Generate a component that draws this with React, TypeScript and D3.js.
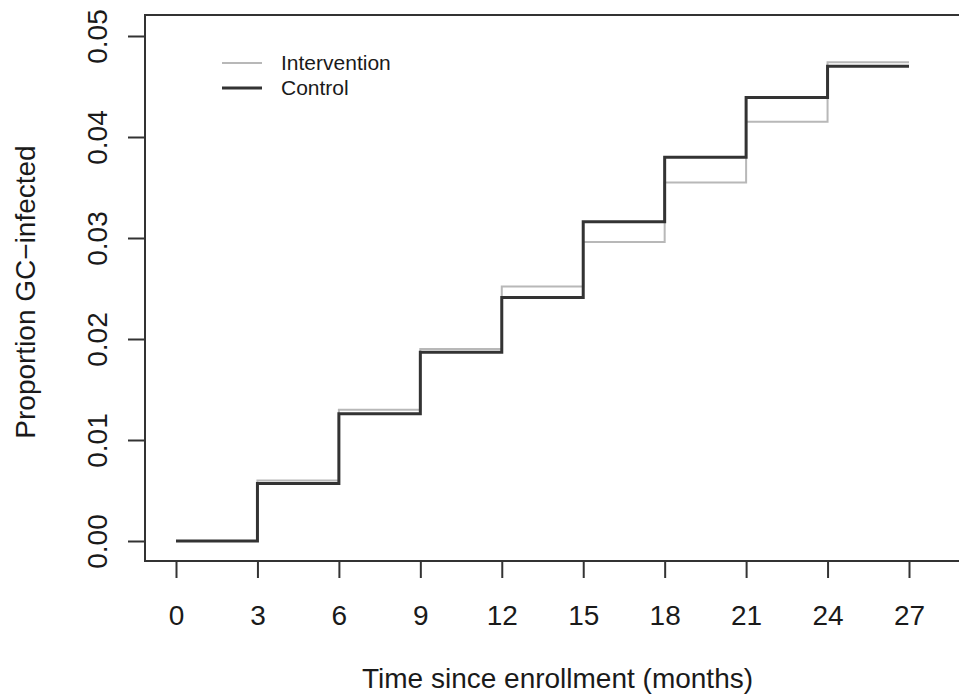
import React, { useEffect, useRef } from 'react';
import * as d3 from 'd3';

const months = [0, 3, 6, 9, 12, 15, 18, 21, 24, 27];
const intervention = [0, 0.006, 0.013, 0.019, 0.0252, 0.0296, 0.0355, 0.0415, 0.0474, 0.0474];
const control = [0, 0.0057, 0.0126, 0.0187, 0.0241, 0.0316, 0.038, 0.0439, 0.047, 0.047];
const yTicks = [0, 0.01, 0.02, 0.03, 0.04, 0.05];
const seriesNames = ['Intervention', 'Control'];

const App = () => {
  const chartRef = useRef<SVGSVGElement>(null);

  useEffect(() => {
    const svg = d3.select(chartRef.current);
    svg.selectAll('*').remove();

    const font = 'Liberation Sans, Arial, Helvetica, sans-serif';
    const box = { left: 145, top: 15, right: 970, bottom: 561 };

    const x = d3.scaleLinear().domain([0, 27]).range([176, 909]);
    const y = d3.scaleLinear().domain([0, 0.05]).range([541, 36]);

    // plot frame (right side runs off the image)
    svg.append('rect')
      .attr('x', box.left).attr('y', box.top)
      .attr('width', box.right - box.left).attr('height', box.bottom - box.top)
      .attr('fill', 'none').attr('stroke', '#333').attr('stroke-width', 2);

    // x axis
    const xg = svg.append('g').attr('transform', `translate(0,${box.bottom})`);
    xg.call(d3.axisBottom(x).tickValues(months).tickSize(17).tickPadding(27).tickSizeOuter(0));
    xg.select('.domain').remove();
    xg.selectAll('line').attr('stroke', '#333').attr('stroke-width', 2);
    xg.selectAll('text').attr('font-family', font).attr('font-size', 28).attr('fill', '#1a1a1a');

    // y axis
    const yg = svg.append('g').attr('transform', `translate(${box.left},0)`);
    yg.call(d3.axisLeft(y).tickValues(yTicks).tickSize(17).tickFormat(d3.format('.2f')));
    yg.select('.domain').remove();
    yg.selectAll('line').attr('stroke', '#333').attr('stroke-width', 2);
    yg.selectAll('text')
      .attr('font-family', font).attr('font-size', 28).attr('fill', '#1a1a1a')
      .attr('x', null).attr('dy', null)
      .attr('text-anchor', 'middle')
      .attr('transform', 'translate(-38,0) rotate(-90)');

    // axis titles
    svg.append('text')
      .attr('x', (box.left + box.right) / 2).attr('y', 688)
      .attr('text-anchor', 'middle')
      .attr('font-family', font).attr('font-size', 28).attr('fill', '#1a1a1a')
      .text('Time since enrollment (months)');

    svg.append('text')
      .attr('transform', `translate(35,292) rotate(-90)`)
      .attr('text-anchor', 'middle')
      .attr('font-family', font).attr('font-size', 28).attr('fill', '#1a1a1a')
      .text('Proportion GC\u2212infected');

    const line = d3.line<number>()
      .x((d, i) => x(months[i]))
      .y(d => y(d))
      .curve(d3.curveStepAfter);

    svg.append('path')
      .datum(intervention)
      .attr('fill', 'none').attr('stroke', '#b8b8b8').attr('stroke-width', 2)
      .attr('d', line);

    svg.append('path')
      .datum(control)
      .attr('fill', 'none').attr('stroke', '#333').attr('stroke-width', 3)
      .attr('d', line);

    // legend
    const colors = ['#b8b8b8', '#333'];
    const widths = [2, 3];
    const lg = svg.append('g');
    seriesNames.forEach((name, i) => {
      const ly = 63 + i * 25;
      lg.append('line')
        .attr('x1', 222).attr('x2', 262).attr('y1', ly).attr('y2', ly)
        .attr('stroke', colors[i]).attr('stroke-width', widths[i]);
      lg.append('text')
        .attr('x', 281).attr('y', ly).attr('dy', '0.35em')
        .attr('font-family', font).attr('font-size', 21).attr('fill', '#1a1a1a')
        .text(name);
    });
  }, []);

  return (
    <div style={{ position: 'absolute', left: 0, top: 0 }}>
      <svg ref={chartRef} width="959" height="699" style={{ display: 'block', background: '#fff' }}></svg>
    </div>
  );
};

export default App;
